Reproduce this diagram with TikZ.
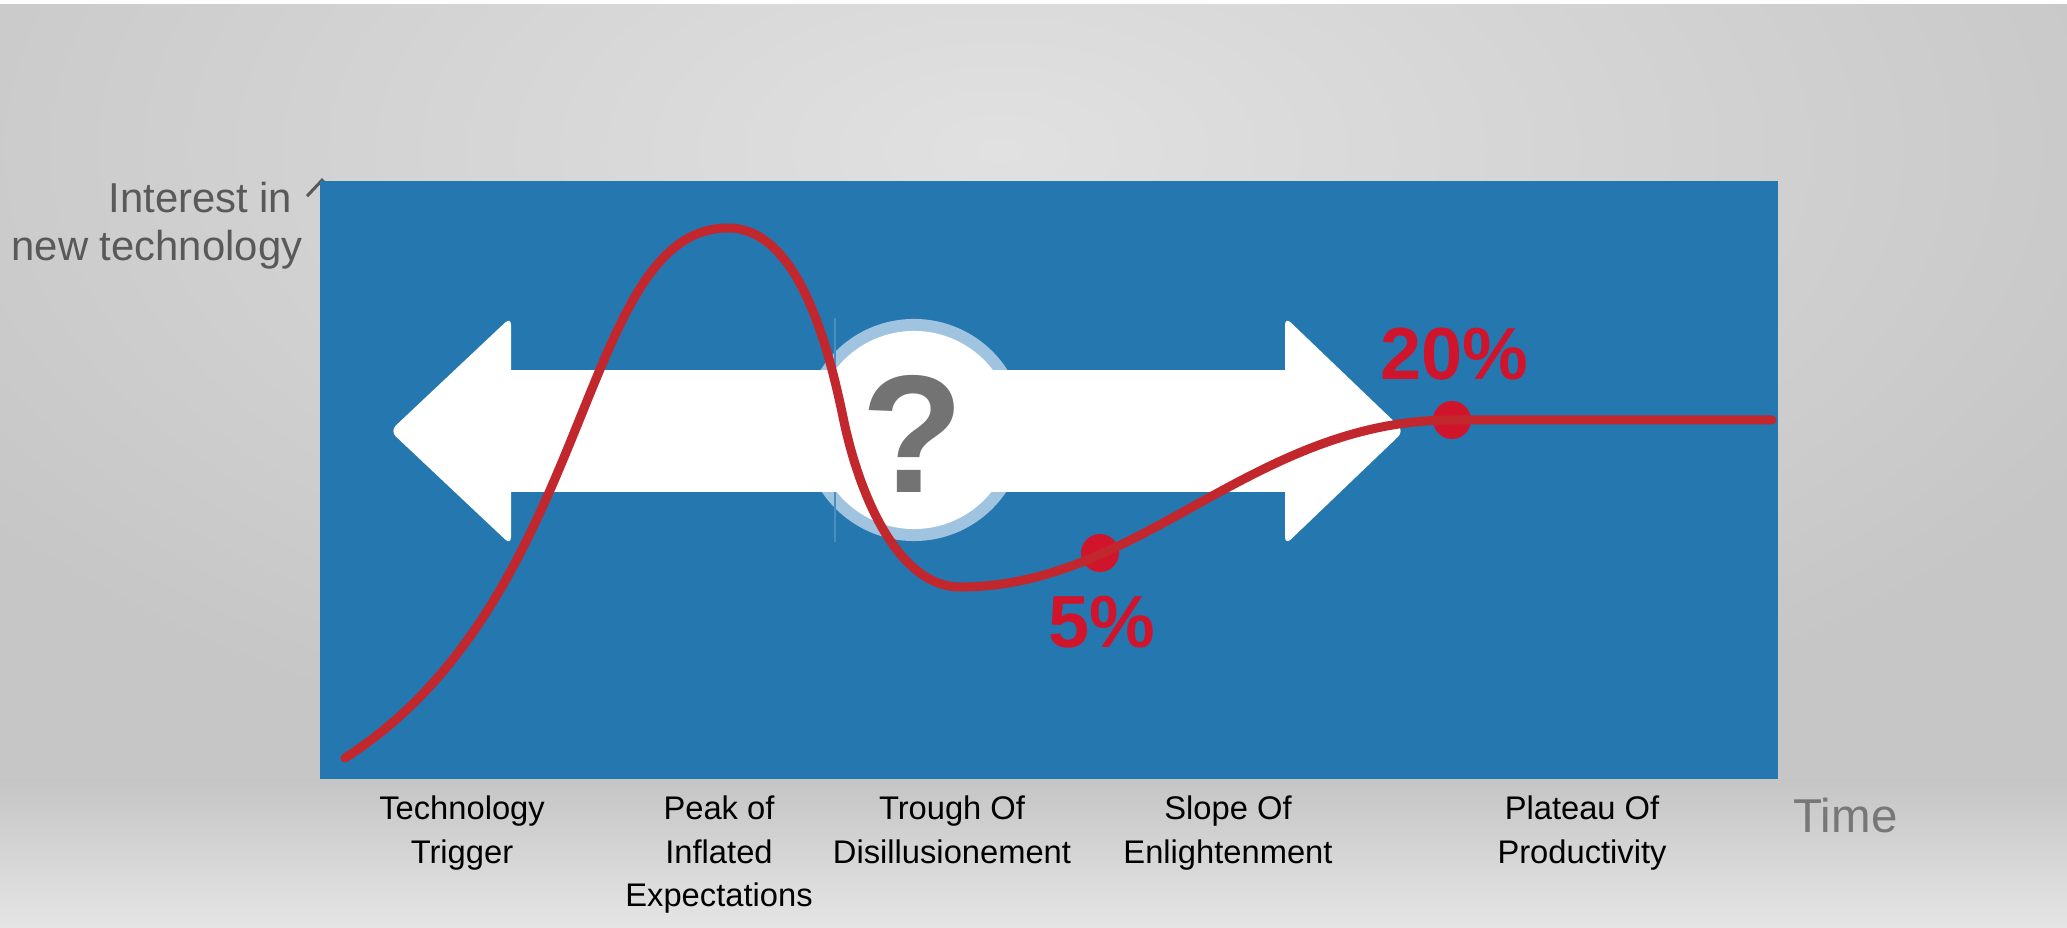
\documentclass[tikz,border=0pt]{standalone}
\usepackage{fontspec}
\setmainfont{Liberation Sans}
\usepackage{xcolor}
\usetikzlibrary{arrows.meta}

\definecolor{chartblue}{HTML}{2577AF}
\definecolor{ringblue}{HTML}{A0C4E0}
\definecolor{seamblue}{HTML}{4A8DC2}
\definecolor{curvered}{HTML}{C1272D}
\definecolor{dotred}{HTML}{D0142C}
\definecolor{qgray}{HTML}{737373}
\definecolor{axisgray}{HTML}{595959}
\definecolor{timegray}{HTML}{777777}
\definecolor{bglight}{HTML}{E1E1E1}
\definecolor{bgdark}{HTML}{C6C6C6}
\definecolor{bandtop}{HTML}{C5C5C5}
\definecolor{bandbottom}{HTML}{E5E5E5}

\begin{document}
\begin{tikzpicture}[x=0.01cm, y=-0.01cm,
    hype/.style={curvered, line width=0.09cm, line cap=round, line join=round},
    phase/.style={align=center, anchor=north, inner sep=0pt, font=\fontsize{9.3}{12.4}\selectfont},
    pct/.style={anchor=base, inner sep=0pt, text=dotred, font=\bfseries\fontsize{21}{24}\selectfont},
    markdot/.style={circle, fill=dotred, inner sep=0pt, minimum size=0.38cm},
    headtip/.style={fill=white, rounded corners=0.08cm}]
    \useasboundingbox (0,0) rectangle (2067,928);

    % Background
    \begin{scope}
        \clip (0,0) rectangle (2067,779);
        \shade[inner color=bglight, outer color=bgdark] (-250,-500) rectangle (2250,800);
    \end{scope}
    \shade[top color=bandtop, bottom color=bandbottom] (0,779) rectangle (2067,928);
    \fill[white!94!bglight] (0,0) rectangle (2067,4);

    % Axis and chart area
    \coordinate (origin) at (322,779);
    \coordinate (ytop) at (322,178);
    \draw[axisgray, line width=0.03cm, -{Straight Barb[length=0.16cm, width=0.3cm]}] (origin) -- (ytop);
    \fill[chartblue] (320,181) rectangle (1778,779);
    \node[anchor=north east, align=right, inner sep=0pt, text=axisgray,
          font=\fontsize{11.9}{13.9}\selectfont] (ylabel) at (303,181) {Interest in\kern0.1cm\\new technology};
    \node[anchor=base west, inner sep=0pt, text=timegray,
          font=\fontsize{13.5}{16}\selectfont] (xlabel) at (1793,832) {Time};

    % Ring behind the arrow
    \fill[ringblue] (914,430) circle[radius=1.11cm];
    \draw[seamblue, line width=0.015cm] (835,318) -- (835,542);
    \fill[white] (914,430) circle[radius=0.99cm];

    % Double arrow
    \fill[white] (511,370) rectangle (1285,492);
    \fill[headtip] (511,317) -- (390,431) -- (511,545) -- cycle;
    \fill[headtip] (1285,317) -- (1404,431) -- (1285,545) -- cycle;
    \node[anchor=base, inner sep=0pt, text=qgray,
          font=\bfseries\fontsize{47.7}{50}\selectfont] (question) at (913,493) {?};

    % Hype curve
    \node[markdot] (dotlow) at (1100,553) {};
    \node[markdot] (dothigh) at (1452,420) {};
    \draw[hype] (345,758) .. controls (595,598) and (578,228) .. (728,228)
        .. controls (795,228) and (826,335) .. (843,417)
        .. controls (860,500) and (900,587) .. (960,587)
        .. controls (1140,587) and (1252,420) .. (dothigh.center) -- (1772,420);
    \node[pct] (low) at (1102,648) {5\%};
    \node[pct] (high) at (1454,380) {20\%};

    % Phases
    \node[phase] (trigger) at (462,795) {Technology\\Trigger};
    \node[phase] (peak) at (719,795) {Peak of\\Inflated\\Expectations};
    \node[phase] (trough) at (952,795) {Trough Of\\Disillusionement};
    \node[phase] (slope) at (1228,795) {Slope Of\\Enlightenment};
    \node[phase] (plateau) at (1582,795) {Plateau Of\\Productivity};
\end{tikzpicture}
\end{document}
